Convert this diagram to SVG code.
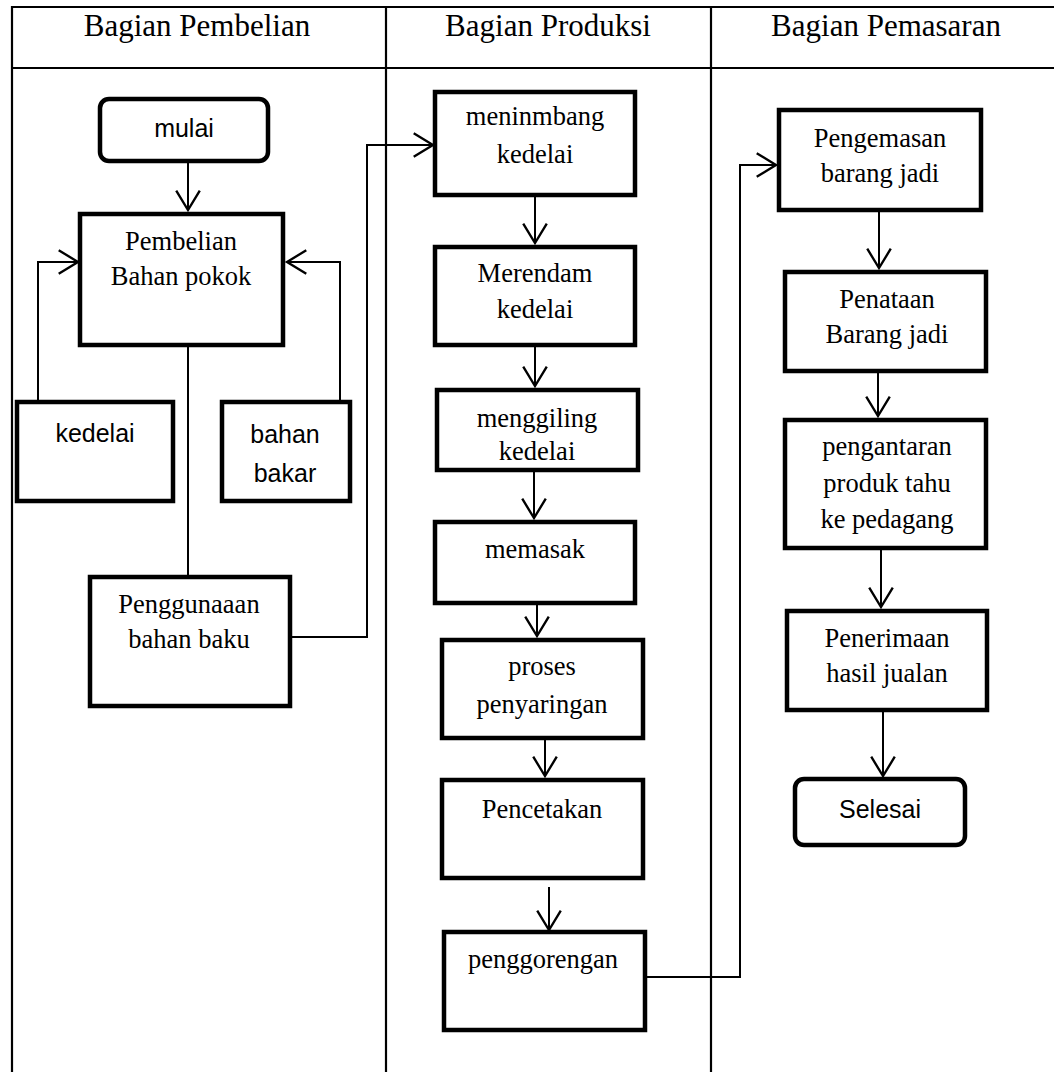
<svg xmlns="http://www.w3.org/2000/svg" width="1054" height="1072" viewBox="0 0 1054 1072">
<defs>
<style>
.frame{fill:none;stroke:#000;stroke-width:2.2}
.box{fill:#fff;stroke:#000;stroke-width:4.5}
.con{fill:none;stroke:#000;stroke-width:2}
.hd{font-family:"Liberation Serif","Times New Roman",serif;font-size:31px;text-anchor:middle;fill:#000}
.t{font-family:"Liberation Serif","Times New Roman",serif;font-size:26.5px;text-anchor:middle;fill:#000}
.s{font-family:"Liberation Sans",Arial,sans-serif;font-size:25px;text-anchor:middle;fill:#000}
</style>
<marker id="arr" markerUnits="userSpaceOnUse" markerWidth="30" markerHeight="30" viewBox="-22 -14 26 28" refX="0" refY="0" orient="auto">
<path d="M-18,-11 L0,0 L-18,11" fill="none" stroke="#000" stroke-width="2.2"/>
</marker>
</defs>
<rect width="1054" height="1072" fill="#fff"/>
<g id="frame">
<line class="frame" x1="12" y1="7" x2="1054" y2="7"/>
<line class="frame" x1="12" y1="68" x2="1054" y2="68" stroke-width="3"/>
<line class="frame" x1="12" y1="6" x2="12" y2="1072"/>
<line class="frame" x1="386" y1="7" x2="386" y2="1072"/>
<line class="frame" x1="711" y1="7" x2="711" y2="1072"/>
<text class="hd" x="197" y="36">Bagian Pembelian</text>
<text class="hd" x="548" y="36">Bagian Produksi</text>
<text class="hd" x="886" y="36">Bagian Pemasaran</text>
</g>
<g id="connectors">
<path class="con" d="M188,163 V210" marker-end="url(#arr)"/>
<path class="con" d="M38,400 V262 H78" marker-end="url(#arr)"/>
<path class="con" d="M340,400 V262 H287" marker-end="url(#arr)"/>
<path class="con" d="M188,347 V575"/>
<path class="con" d="M292,637 H367 V145 H433" marker-end="url(#arr)"/>
<path class="con" d="M535,197 V243" marker-end="url(#arr)"/>
<path class="con" d="M535,347 V386" marker-end="url(#arr)"/>
<path class="con" d="M534,472 V518" marker-end="url(#arr)"/>
<path class="con" d="M537,605 V636" marker-end="url(#arr)"/>
<path class="con" d="M545,740 V776" marker-end="url(#arr)"/>
<path class="con" d="M549,887 V930" marker-end="url(#arr)"/>
<path class="con" d="M647,977 H740 V165 H776" marker-end="url(#arr)"/>
<path class="con" d="M879,212 V268" marker-end="url(#arr)"/>
<path class="con" d="M878,373 V416" marker-end="url(#arr)"/>
<path class="con" d="M881,550 V607" marker-end="url(#arr)"/>
<path class="con" d="M883,712 V776" marker-end="url(#arr)"/>
</g>
<g id="mulai"><rect class="box" x="100" y="99" width="168" height="62" rx="9"/><text class="s" x="184" y="137" font-size="24">mulai</text></g>
<g id="pembelian"><rect class="box" x="80" y="214" width="203" height="131"/><text class="t"><tspan x="181" y="250">Pembelian</tspan><tspan x="181" y="285">Bahan pokok</tspan></text></g>
<g id="kedelai"><rect class="box" x="17" y="402" width="156" height="99"/><text class="s" x="95" y="442" font-size="26">kedelai</text></g>
<g id="bahan-bakar"><rect class="box" x="222" y="402" width="128" height="99"/><text class="s" font-size="26"><tspan x="285" y="443">bahan</tspan><tspan x="285" y="482">bakar</tspan></text></g>
<g id="penggunaan"><rect class="box" x="90" y="577" width="200" height="129"/><text class="t"><tspan x="189" y="613">Penggunaaan</tspan><tspan x="189" y="648">bahan baku</tspan></text></g>
<g id="menimbang"><rect class="box" x="435" y="92" width="200" height="103"/><text class="t"><tspan x="535" y="125">meninmbang</tspan><tspan x="535" y="163">kedelai</tspan></text></g>
<g id="merendam"><rect class="box" x="435" y="247" width="200" height="98"/><text class="t"><tspan x="535" y="282">Merendam</tspan><tspan x="535" y="318">kedelai</tspan></text></g>
<g id="menggiling"><rect class="box" x="437" y="390" width="201" height="80"/><text class="t"><tspan x="537" y="427">menggiling</tspan><tspan x="537" y="460">kedelai</tspan></text></g>
<g id="memasak"><rect class="box" x="435" y="522" width="200" height="81"/><text class="t" x="535" y="558">memasak</text></g>
<g id="penyaringan"><rect class="box" x="442" y="640" width="201" height="98"/><text class="t"><tspan x="542" y="675">proses</tspan><tspan x="542" y="713">penyaringan</tspan></text></g>
<g id="pencetakan"><rect class="box" x="442" y="780" width="201" height="98"/><text class="t" x="542" y="818">Pencetakan</text></g>
<g id="penggorengan"><rect class="box" x="444" y="932" width="201" height="98"/><text class="t" x="543" y="968">penggorengan</text></g>
<g id="pengemasan"><rect class="box" x="779" y="110" width="202" height="100"/><text class="t"><tspan x="880" y="147">Pengemasan</tspan><tspan x="880" y="182">barang jadi</tspan></text></g>
<g id="penataan"><rect class="box" x="785" y="272" width="201" height="99"/><text class="t"><tspan x="887" y="308">Penataan</tspan><tspan x="887" y="343">Barang jadi</tspan></text></g>
<g id="pengantaran"><rect class="box" x="785" y="420" width="201" height="128"/><text class="t"><tspan x="887" y="455">pengantaran</tspan><tspan x="887" y="492">produk tahu</tspan><tspan x="887" y="528">ke pedagang</tspan></text></g>
<g id="penerimaan"><rect class="box" x="787" y="611" width="200" height="99"/><text class="t"><tspan x="887" y="647">Penerimaan</tspan><tspan x="887" y="682">hasil jualan</tspan></text></g>
<g id="selesai"><rect class="box" x="795" y="779" width="170" height="66" rx="9"/><text class="s" x="880" y="818" font-size="23">Selesai</text></g>
</svg>
